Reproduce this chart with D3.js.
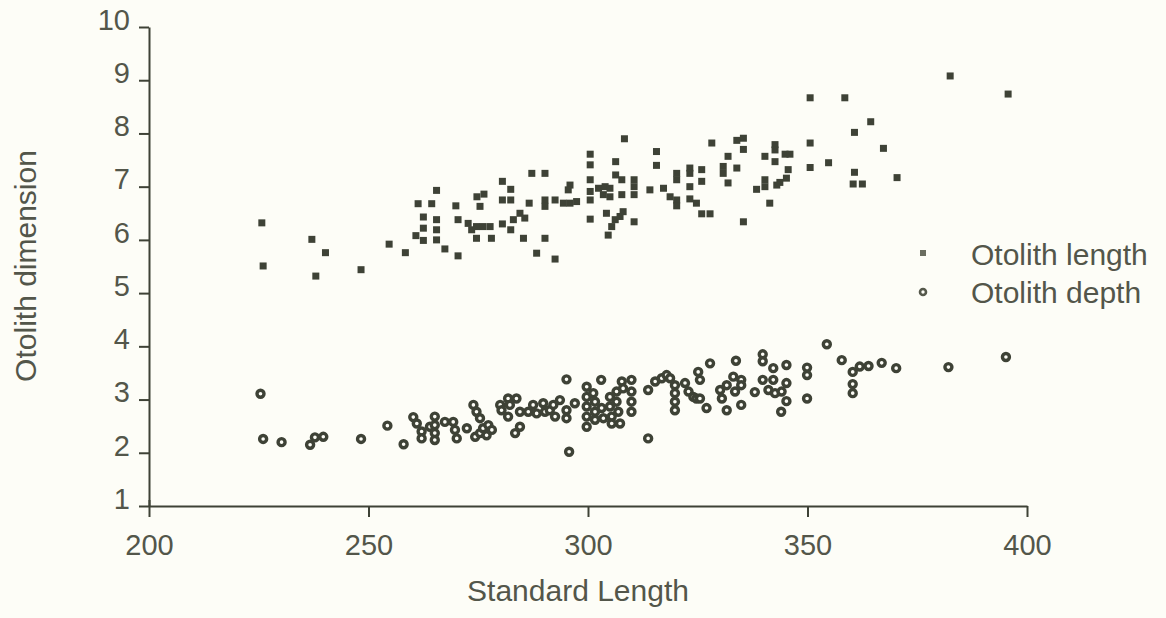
<!DOCTYPE html>
<html>
<head>
<meta charset="utf-8">
<script src="https://cdn.jsdelivr.net/npm/d3@7"></script>
<style>
  html, body { margin: 0; padding: 0; background: #fdfdf7; }
  svg { display: block; }
</style>
</head>
<body>
<svg id="chart" width="1166" height="618"></svg>
<script>
const xTicks = [200, 250, 300, 350, 400];
const yTicks = [1, 2, 3, 4, 5, 6, 7, 8, 9, 10];
const seriesNames = ["Otolith length", "Otolith depth"];
const xTitle = "Standard Length";
const yTitle = "Otolith dimension";

// Otolith length: [standard length, dimension]
const lengthPts = [
  [225.7,6.32],[226.0,5.51],[237.1,6.01],[238.0,5.32],[240.2,5.76],[248.3,5.44],[254.7,5.92],[258.4,5.76],
  [261.3,6.68],[264.4,6.68],[265.5,6.93],[262.5,6.43],[265.5,6.38],[262.5,6.22],[260.8,6.08],[262.5,5.99],
  [265.5,6.19],[265.5,6.00],
  [308.3,7.90],[328.2,7.82],[315.6,7.66],[315.6,7.40],[300.5,7.61],[300.5,7.41],[306.3,7.47],[287.2,7.25],
  [290.2,7.25],[280.5,7.10],[282.4,6.95],[269.9,6.64],[274.7,6.81],[276.3,6.86],[275.4,6.63],[280.5,6.75],
  [282.4,6.75],[286.6,6.69],[290.2,6.75],[290.2,6.63],[292.5,6.75],[294.4,6.69],[295.9,6.69],[297.4,6.72],
  [295.9,7.03],[295.5,6.94],[300.5,7.13],[300.5,6.91],[300.5,6.75],[302.4,6.97],[303.9,7.00],[305.0,6.97],
  [303.5,6.85],[305.0,6.81],[306.3,7.22],[307.7,7.13],[307.7,6.85],[310.5,7.13],[310.5,7.00],[310.5,6.85],
  [314.1,6.94],[317.2,6.97],[318.7,6.81],[320.2,6.75],[320.2,6.64],[320.2,7.25],[320.2,7.13],[323.2,7.35],
  [323.2,7.25],[325.9,7.32],[325.9,7.10],[323.2,7.00],[323.2,6.77],[324.7,6.69],[325.9,6.49],[327.8,6.49],
  [330.8,7.38],[330.8,7.25],[331.9,7.57],[331.9,7.07],
  [267.4,5.83],[270.4,5.70],[270.4,6.38],[272.7,6.31],[273.5,6.19],[274.6,6.25],[276.1,6.25],[277.7,6.25],
  [274.6,6.03],[278.0,6.03],[280.5,6.30],[282.4,6.19],[283.0,6.38],[284.5,6.50],[285.6,6.41],[285.3,6.03],
  [288.3,5.75],[290.2,6.03],[292.5,5.64],[300.5,6.39],[304.2,6.50],[305.4,6.25],[304.6,6.09],[306.2,6.38],
  [307.3,6.44],[308.0,6.53],[310.5,6.34],
  [382.5,9.08],[395.7,8.74],[350.6,8.67],[358.5,8.67],[364.4,8.22],[360.7,8.02],[367.3,7.72],[350.6,7.82],
  [350.6,7.36],[354.8,7.45],[360.7,7.27],[360.4,7.05],[362.5,7.05],[370.4,7.17],[335.4,7.91],[333.9,7.87],
  [335.4,7.70],[333.9,7.35],[340.3,7.57],[342.6,7.79],[342.6,7.69],[344.9,7.61],[346.0,7.61],[342.6,7.47],
  [345.6,7.32],[345.2,7.16],[343.7,7.08],[343.0,7.03],[340.3,7.13],[340.3,7.00],[338.4,6.95],[341.4,6.69],
  [335.4,6.34]
];

// Otolith depth: [standard length, dimension]
const depthPts = [
  [225.4,3.11],[226.0,2.26],[230.2,2.20],[236.7,2.15],[237.8,2.29],[239.7,2.30],[248.3,2.26],[254.3,2.51],
  [258.0,2.16],[260.2,2.67],[261.0,2.55],[262.1,2.40],[262.1,2.27],[264.0,2.49],[265.1,2.68],[265.1,2.52],
  [265.1,2.37],[265.1,2.24],
  [267.4,2.58],[269.3,2.58],[269.7,2.43],[270.1,2.27],[272.4,2.46],[273.9,2.90],[274.6,2.77],[275.4,2.65],
  [274.3,2.30],[275.4,2.37],[276.1,2.46],[277.3,2.52],[278.1,2.43],[276.9,2.33],[280.0,2.90],[280.3,2.80],
  [281.8,3.02],[281.8,2.68],[283.7,3.02],[282.2,2.90],[283.4,2.37],[284.5,2.49],[284.5,2.77],[286.4,2.77],
  [287.5,2.90],[288.3,2.74],[289.8,2.93],[290.2,2.77],[291.3,2.80],[292.1,2.90],[292.5,2.68],[293.6,2.99],
  [295.1,2.80],[295.1,2.65],[295.1,3.38],[297.0,2.93],[295.7,2.02],[299.7,3.24],[299.7,3.05],[299.7,2.87],
  [299.7,2.68],[299.7,2.49],[301.2,3.12],[301.6,2.96],[301.6,2.77],[301.6,2.62],[303.0,3.37],[303.1,2.84],
  [303.5,2.65],[305.0,3.05],[305.0,2.87],[305.4,2.68],[305.4,2.55],[306.5,3.15],[306.5,2.96],[306.9,2.77],
  [307.3,2.55],[307.7,3.34],[308.0,3.21],[309.9,3.37],[309.9,3.15],[309.9,2.96],[309.9,2.77],[313.7,2.27],
  [313.7,3.18],[315.3,3.34],[316.8,3.40],[317.9,3.46],[318.7,3.40],[319.8,3.27],[319.8,3.12],[319.8,2.96],
  [319.8,2.80],[322.1,3.31],[322.9,3.15],[324.0,3.05],[324.7,3.02],[325.5,3.02],[325.1,3.52],[325.5,3.37],
  [327.8,3.68],[327.0,2.84],[330.1,3.18],[330.5,3.02],[331.6,2.80],
  [354.4,4.04],[395.2,3.80],[382.1,3.61],[333.7,3.73],[339.8,3.85],[339.8,3.72],[342.2,3.59],[345.2,3.65],
  [349.9,3.60],[349.9,3.46],[357.8,3.74],[360.3,3.52],[361.9,3.62],[363.9,3.63],[366.9,3.69],[370.2,3.59],
  [360.3,3.29],[360.3,3.12],[349.9,3.02],[333.1,3.43],[334.9,3.37],[331.6,3.27],[333.5,3.15],[334.9,3.27],
  [334.9,2.90],[338.0,3.14],[339.8,3.37],[342.2,3.37],[341.1,3.18],[342.6,3.12],[344.1,3.15],[345.2,3.31],
  [345.2,2.97],[344.0,2.77]
];

const ink = "#3e4236";
const textCol = "#53564a";
const bg = "#fdfdf7";
const font = "'Liberation Sans', Arial, Helvetica, sans-serif";

const svg = d3.select("#chart");
svg.append("rect").attr("width", 1166).attr("height", 618).attr("fill", bg);

const x = d3.scaleLinear().domain([200, 400]).range([149, 1027]);
const y = d3.scaleLinear().domain([1, 10]).range([506, 27]);

// Y axis
const yAxis = svg.append("g")
  .attr("transform", `translate(${x(200)},0)`)
  .call(d3.axisLeft(y).tickValues(yTicks).tickSize(10).tickSizeOuter(0).tickFormat(d3.format("d")));
yAxis.select(".domain").attr("stroke", ink).attr("stroke-width", 2);
yAxis.selectAll(".tick line").attr("stroke", ink).attr("stroke-width", 2);
yAxis.selectAll(".tick text")
  .attr("x", -19).attr("dy", "0.08em")
  .attr("fill", textCol).attr("font-family", font).attr("font-size", 29);

// X axis
const xAxis = svg.append("g")
  .attr("transform", `translate(0,${y(1)})`)
  .call(d3.axisBottom(x).tickValues(xTicks).tickSize(11).tickSizeOuter(0).tickFormat(d3.format("d")));
xAxis.select(".domain").attr("stroke", ink).attr("stroke-width", 2);
xAxis.selectAll(".tick line").attr("stroke", ink).attr("stroke-width", 2);
xAxis.selectAll(".tick text")
  .attr("y", 49).attr("dy", 0)
  .attr("fill", textCol).attr("font-family", font).attr("font-size", 29);
xAxis.selectAll(".tick").filter(d => d === 200).select("line").attr("y1", -6);

// Titles
svg.append("text")
  .attr("x", 578).attr("y", 601)
  .attr("text-anchor", "middle")
  .attr("fill", textCol).attr("font-family", font).attr("font-size", 30)
  .text(xTitle);
svg.append("text")
  .attr("transform", "translate(36,266) rotate(-90)")
  .attr("text-anchor", "middle")
  .attr("fill", textCol).attr("font-family", font).attr("font-size", 30)
  .text(yTitle);

// Points
svg.append("g").selectAll("rect").data(lengthPts).join("rect")
  .attr("x", d => x(d[0]) - 3.5).attr("y", d => y(d[1]) - 3.5)
  .attr("width", 7).attr("height", 7).attr("fill", ink);

svg.append("g").selectAll("circle").data(depthPts).join("circle")
  .attr("cx", d => x(d[0])).attr("cy", d => y(d[1]))
  .attr("r", 3.5).attr("fill", bg).attr("stroke", ink).attr("stroke-width", 3.4);

// Legend
const legend = svg.append("g");
legend.append("rect").attr("x", 920).attr("y", 250).attr("width", 6).attr("height", 6).attr("fill", "#6a6d60");
legend.append("circle").attr("cx", 923).attr("cy", 292).attr("r", 3).attr("fill", bg).attr("stroke", "#55584b").attr("stroke-width", 2.6);
legend.append("text").attr("x", 971).attr("y", 265)
  .attr("fill", textCol).attr("font-family", font).attr("font-size", 30).text(seriesNames[0]);
legend.append("text").attr("x", 971).attr("y", 303)
  .attr("fill", textCol).attr("font-family", font).attr("font-size", 30).text(seriesNames[1]);
</script>
</body>
</html>
